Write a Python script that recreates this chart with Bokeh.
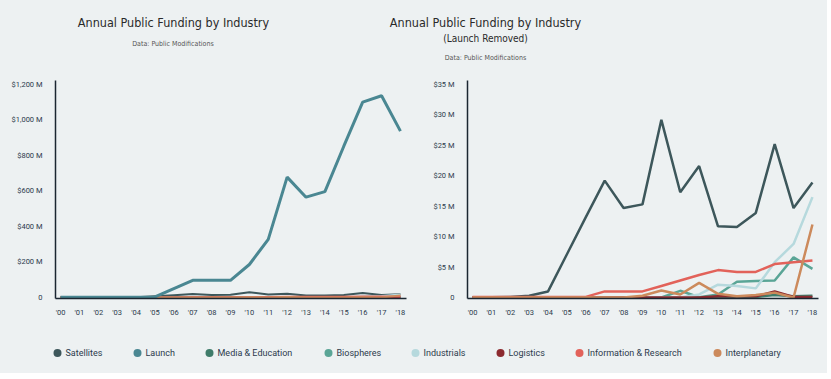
from bokeh.plotting import figure
from bokeh.layouts import column, row
from bokeh.models import Range1d, FixedTicker
from bokeh.core.properties import value
from bokeh.embed import file_html
from bokeh.resources import INLINE

# ---------------- data ----------------
year_idx = list(range(19))
year_labels = ["'00", "'01", "'02", "'03", "'04", "'05", "'06", "'07", "'08", "'09",
               "'10", "'11", "'12", "'13", "'14", "'15", "'16", "'17", "'18"]

series_names = ["Satellites", "Launch", "Media & Education", "Biospheres",
                "Industrials", "Logistics", "Information & Research", "Interplanetary"]
series_colors = ["#3d575b", "#4a8792", "#3f7c6a", "#5aa596",
                 "#b6d9dd", "#8c2a2f", "#e2625a", "#cc8a5c"]

satellites = [0.05, 0.05, 0.1, 0.3, 1.0, 7.1, 13.2, 19.2, 14.7, 15.3, 29.2, 17.3, 21.6,
              11.7, 11.6, 13.9, 25.2, 14.7, 18.9]
launch = [2, 2, 2, 2, 2, 3, 50, 97, 97, 97, 186, 327, 678, 565, 596, 852, 1100, 1136, 937]
media_education = [0, 0, 0, 0, 0, 0, 0, 0, 0, 0, 0, 0, 0, 0.1, 0.1, 0.1, 0.4, 0.2, 0.3]
biospheres = [0, 0, 0, 0, 0, 0, 0, 0, 0, 0, 0, 1.1, 0.05, 0.5, 2.6, 2.7, 2.8, 6.6, 4.7]
industrials = [0, 0, 0, 0, 0, 0, 0, 0, 0, 0, 0, 0, 0.5, 2.1, 1.9, 1.5, 5.8, 8.8, 16.5]
logistics = [0, 0, 0, 0, 0, 0, 0, 0, 0, 0, 0, 0, 0, 0.2, 0.2, 0.2, 1.0, 0.1, 0.1]
info_research = [0.1, 0.1, 0.1, 0.1, 0.1, 0.1, 0.1, 1.0, 1.0, 1.0, 1.9, 2.8, 3.7, 4.5,
                 4.2, 4.2, 5.5, 5.8, 6.1]
interplanetary = [0, 0, 0, 0, 0, 0, 0, 0, 0, 0.3, 1.15, 0.5, 2.4, 0.6, 0.2, 0.4, 0.8, 0.0, 12.0]

left_ticks = [0, 200, 400, 600, 800, 1000, 1200]
left_tick_labels = ["0", "$200 M", "$400 M", "$600 M", "$800 M", "$1,000 M", "$1,200 M"]
right_ticks = [0, 5, 10, 15, 20, 25, 30, 35]
right_tick_labels = ["0", "$5 M", "$10 M", "$15 M", "$20 M", "$25 M", "$30 M", "$35 M"]

all_series = [satellites, launch, media_education, biospheres, industrials,
              logistics, info_research, interplanetary]

BG = "#edf1f2"
AXIS = "#1b2631"
TICK_TXT = "#2c3a4c"
TITLE_FONT = value("'DejaVu Sans Condensed', 'Liberation Sans Narrow', Roboto")


def base_fig(width, height, xr, yr, mbl, mbr, mbt, mbb):
    p = figure(width=width, height=height, x_range=xr, y_range=yr,
               output_backend="svg", toolbar_location=None,
               min_border_left=mbl, min_border_right=mbr,
               min_border_top=mbt, min_border_bottom=mbb)
    p.background_fill_color = BG
    p.border_fill_color = BG
    p.outline_line_color = None
    p.xgrid.visible = False
    p.ygrid.visible = False
    return p


def style_chart(p, yticks, ylabels):
    p.xaxis.ticker = FixedTicker(ticks=year_idx)
    p.xaxis.major_label_overrides = {i: l for i, l in zip(year_idx, year_labels)}
    p.yaxis.ticker = FixedTicker(ticks=yticks)
    p.yaxis.major_label_overrides = {t: l for t, l in zip(yticks, ylabels)}
    for ax in (p.xaxis, p.yaxis):
        ax.axis_line_color = AXIS
        ax.axis_line_width = 1.5
        ax.major_tick_line_color = None
        ax.minor_tick_line_color = None
        ax.major_label_text_font = "Roboto"
        ax.major_label_text_font_size = "7.5px"
        ax.major_label_text_color = TICK_TXT
    p.xaxis.major_label_standoff = 3
    p.yaxis.major_label_standoff = 7


# ---------------- header ----------------
header = base_fig(827, 68, Range1d(0, 827), Range1d(68, 0), 0, 0, 0, 0)
header.axis.visible = False
header.text(x=[173, 485], y=[22, 22],
            text=["Annual Public Funding by Industry", "Annual Public Funding by Industry"],
            text_font=TITLE_FONT, text_font_size="12.5px", text_color="#2a2a2a",
            text_align="center", text_baseline="middle")
header.text(x=[485], y=[38], text=["(Launch Removed)"],
            text_font=TITLE_FONT, text_font_size="10px", text_color="#2a2a2a",
            text_align="center", text_baseline="middle")
header.text(x=[172.5, 485], y=[43, 57],
            text=["Data: Public Modifications", "Data: Public Modifications"],
            text_font=TITLE_FONT, text_font_size="7px", text_color="#555555",
            text_align="center", text_baseline="middle")

# ---------------- left chart ----------------
left = base_fig(415, 270, Range1d(-0.265, 18.32), Range1d(-5.6, 1222), 55, 9, 12, 40)
style_chart(left, left_ticks, left_tick_labels)
for i, (vals, col) in enumerate(zip(all_series, series_colors)):
    if i == 1:
        continue
    left.line(year_idx, vals, line_color=col, line_width=2)
left.line(year_idx, launch, line_color=series_colors[1], line_width=3)

# ---------------- right chart ----------------
right = base_fig(412, 270, Range1d(-0.265, 18.32), Range1d(-0.164, 35.66), 52, 9, 12, 40)
style_chart(right, right_ticks, right_tick_labels)
for i, (vals, col) in enumerate(zip(all_series, series_colors)):
    if i == 1:
        continue
    right.line(year_idx, vals, line_color=col, line_width=2.5)

# ---------------- legend ----------------
legend_x_dot = [57, 137, 209, 328, 415, 500, 579, 717]
leg = base_fig(827, 35, Range1d(0, 827), Range1d(35, 0), 0, 0, 0, 0)
leg.axis.visible = False
leg.scatter(legend_x_dot, [14.5] * 8, size=8, color=series_colors, line_color=None)
leg.text([v + 8 for v in legend_x_dot], [14.5] * 8, text=series_names,
         text_font=value("Roboto"), text_font_size="9px", text_color="#2c3a4c",
         text_align="left", text_baseline="middle")

layout = column(header, row(left, right, styles={"background-color": BG}),
                leg, styles={"background-color": BG})
open("out.html", "w").write(file_html(layout, INLINE))
